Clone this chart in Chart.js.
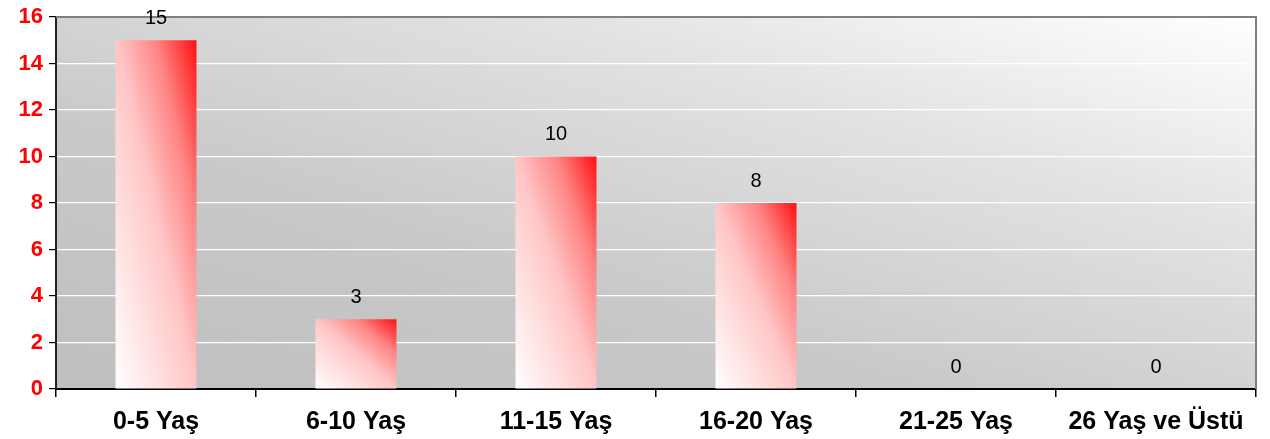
<!DOCTYPE html>
<html>
<head>
<meta charset="utf-8">
<script src="https://cdn.jsdelivr.net/npm/chart.js@4"></script>
<style>
  html, body { margin: 0; padding: 0; background: #fff; }
  #wrap { width: 1270px; height: 439px; }
</style>
</head>
<body>
<div id="wrap"><canvas id="ages"></canvas></div>
<script>
const ageGroups = ['0-5 Yaş', '6-10 Yaş', '11-15 Yaş', '16-20 Yaş', '21-25 Yaş', '26 Yaş ve Üstü'];
const counts = [15, 3, 10, 8, 0, 0];
const yTicks = [0, 2, 4, 6, 8, 10, 12, 14, 16];

const FONT = '"Liberation Sans", Arial, sans-serif';

// excel-style "diagonal up" fill: normalized to the box, bottom-left -> top-right
function diagGradient(ctx, x0, yb, w, h, stops) {
  const k = 2 / (1 / (w * w) + 1 / (h * h));
  const g = ctx.createLinearGradient(x0, yb, x0 + k / w, yb - k / h);
  stops.forEach(([t, c]) => g.addColorStop(t, c));
  return g;
}

const barStops = [[0, '#ffffff'], [0.5, '#ffc6c6'], [0.75, '#ff8484'], [1, '#ff1010']];
const bgStops = [[0, '#bfbfbf'], [0.35, '#c8c8c8'], [0.7, '#e2e2e2'], [1, '#ffffff']];

const plotBg = {
  id: 'plotBg',
  beforeDraw(chart) {
    const { ctx, chartArea: a } = chart;
    ctx.save();
    ctx.fillStyle = diagGradient(ctx, a.left, a.bottom, a.right - a.left, a.bottom - a.top, bgStops);
    ctx.fillRect(a.left, a.top, a.right - a.left, a.bottom - a.top);
    ctx.restore();
  },
  afterDraw(chart) {
    const { ctx, chartArea: a } = chart;
    ctx.save();
    ctx.strokeStyle = '#808080';
    ctx.lineWidth = 2;
    ctx.beginPath();
    ctx.moveTo(a.left, a.top);
    ctx.lineTo(a.right, a.top);
    ctx.lineTo(a.right, a.bottom);
    ctx.stroke();
    ctx.restore();
  }
};

const valueLabels = {
  id: 'valueLabels',
  afterDraw(chart) {
    const { ctx } = chart;
    const meta = chart.getDatasetMeta(0);
    ctx.save();
    ctx.font = '20px ' + FONT;
    ctx.fillStyle = '#000';
    ctx.textAlign = 'center';
    ctx.textBaseline = 'middle';
    meta.data.forEach((bar, i) => {
      ctx.fillText(String(counts[i]), bar.x, bar.y - 22);
    });
    ctx.restore();
  }
};

new Chart(document.getElementById('ages'), {
  type: 'bar',
  data: {
    labels: ageGroups,
    datasets: [{
      label: 'Sayı',
      data: counts,
      backgroundColor(c) {
        const chart = c.chart;
        if (!chart.chartArea || c.type !== 'data') return '#ff8080';
        const xs = chart.scales.x, ys = chart.scales.y;
        const w = (xs.getPixelForValue(1) - xs.getPixelForValue(0)) * 0.405;
        const x0 = xs.getPixelForValue(c.dataIndex) - w / 2;
        const yb = ys.getPixelForValue(0);
        const h = Math.max(1, yb - ys.getPixelForValue(c.raw));
        return diagGradient(chart.ctx, x0, yb, w, h, barStops);
      },
      borderWidth: 0,
      barPercentage: 0.405,
      categoryPercentage: 1
    }]
  },
  options: {
    responsive: true,
    maintainAspectRatio: false,
    animation: false,
    layout: { padding: { top: 9, right: 14, left: 0, bottom: 0 } },
    plugins: {
      legend: { display: false },
      tooltip: { enabled: false }
    },
    scales: {
      x: {
        offset: true,
        grid: { offset: true, drawOnChartArea: false, color: '#000', tickLength: 8, lineWidth: 1.5 },
        border: { color: '#000', width: 2 },
        ticks: { color: '#000', font: { family: FONT, size: 25, weight: 'bold' }, padding: 10, maxRotation: 0 },
        afterFit(s) { s.height = 50; }
      },
      y: {
        min: 0,
        max: 16,
        afterBuildTicks(s) { s.ticks = yTicks.map(v => ({ value: v })); },
        grid: { color: '#ffffff', lineWidth: 1.2, tickColor: '#000', tickLength: 7 },
        border: { color: '#222', width: 2 },
        ticks: { color: '#ff0000', font: { family: FONT, size: 22, weight: 'bold', lineHeight: 1 }, padding: 6 },
        afterFit(s) { s.width = 56; }
      }
    }
  },
  plugins: [plotBg, valueLabels]
});
</script>
</body>
</html>
